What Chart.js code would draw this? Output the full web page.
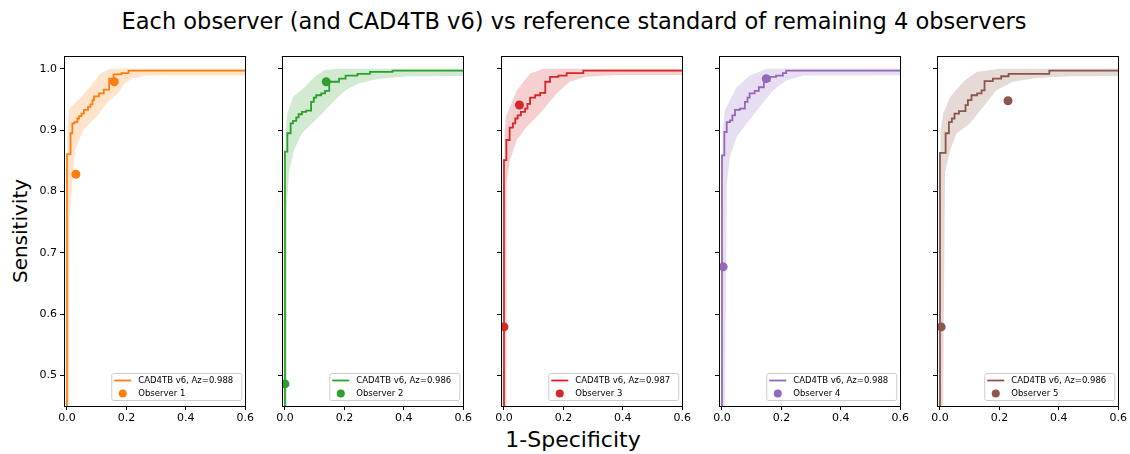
<!DOCTYPE html>
<html>
<head>
<meta charset="utf-8">
<script src="https://cdn.jsdelivr.net/npm/chart.js@4.4.1/dist/chart.umd.min.js"></script>
<style>
  body { margin: 0; background: #fff; }
  #wrap { position: relative; width: 1130px; height: 454px; font-family: 'DejaVu Sans', sans-serif; color: #000; }
  canvas { position: absolute; }
  .title { position: absolute; top: 8px; left: 0; width: 1148px; text-align: center; font-size: 22.5px; line-height: 27px; }
  .xlab { position: absolute; top: 426px; left: 0; width: 1146px; text-align: center; font-size: 22px; line-height: 28px; }
  .ylab { position: absolute; left: 20px; top: 231px; font-size: 20px; transform: translate(-50%, -50%) rotate(-90deg); white-space: nowrap; }
</style>
</head>
<body>
<div id="wrap">
  <div class="title">Each observer (and CAD4TB v6) vs reference standard of remaining 4 observers</div>
  <div class="ylab">Sensitivity</div>
  <div class="xlab">1-Specificity</div>
</div>
<script>
// ROC step curves, [1-specificity, sensitivity]
const roc1 = [[0,0],[0,0.861],[0.012,0.895],[0.018,0.911],[0.025,0.913],[0.035,0.919],[0.041,0.923],[0.049,0.927],[0.057,0.933],[0.071,0.938],[0.079,0.942],[0.086,0.949],[0.091,0.955],[0.108,0.960],[0.124,0.966],[0.142,0.984],[0.157,0.991],[0.183,0.993],[0.207,0.997],[1,0.997]];
const roc2 = [[0,0],[0,0.865],[0.008,0.895],[0.019,0.911],[0.027,0.915],[0.038,0.921],[0.046,0.926],[0.057,0.930],[0.071,0.932],[0.088,0.946],[0.097,0.953],[0.105,0.957],[0.122,0.960],[0.135,0.964],[0.149,0.979],[0.182,0.984],[0.204,0.989],[0.244,0.992],[0.286,0.995],[0.362,0.997],[1,0.997]];
const roc3 = [[0,0],[0,0.851],[0.008,0.884],[0.019,0.904],[0.030,0.911],[0.038,0.919],[0.046,0.924],[0.057,0.930],[0.071,0.935],[0.079,0.943],[0.088,0.953],[0.105,0.957],[0.122,0.961],[0.139,0.979],[0.155,0.987],[0.183,0.989],[0.211,0.993],[0.267,0.997],[1,0.997]];
const roc4 = [[0,0],[0,0.859],[0.008,0.897],[0.016,0.913],[0.027,0.916],[0.035,0.924],[0.044,0.933],[0.060,0.935],[0.077,0.946],[0.086,0.953],[0.093,0.960],[0.110,0.964],[0.124,0.970],[0.141,0.980],[0.160,0.987],[0.182,0.989],[0.205,0.993],[0.216,0.997],[1,0.997]];
const roc5 = [[0,0],[0,0.863],[0.019,0.895],[0.030,0.913],[0.040,0.919],[0.049,0.927],[0.064,0.931],[0.086,0.941],[0.094,0.949],[0.106,0.957],[0.125,0.960],[0.140,0.965],[0.150,0.980],[0.178,0.984],[0.206,0.988],[0.231,0.992],[0.368,0.997],[1,0.997]];

// confidence band edges
const band1Upper = [[0,0.3],[0.002,0.9],[0.007,0.935],[0.044,0.952],[0.077,0.970],[0.111,0.992],[0.144,1.0],[1,1.0]];
const band1Lower = [[0.008,0.3],[0.009,0.758],[0.027,0.867],[0.054,0.900],[0.100,0.922],[0.133,0.944],[0.171,0.960],[0.194,0.976],[0.222,0.985],[0.268,0.989],[1,0.989]];
const band2Upper = [[0,0.3],[0.002,0.9],[0.008,0.927],[0.027,0.954],[0.066,0.970],[0.100,0.987],[0.133,0.998],[0.178,1.0],[1,1.0]];
const band2Lower = [[0.006,0.3],[0.006,0.770],[0.013,0.830],[0.030,0.867],[0.057,0.895],[0.114,0.922],[0.158,0.944],[0.203,0.965],[0.248,0.976],[0.315,0.984],[0.416,0.988],[1,0.989]];
const band3Upper = [[0,0.3],[0.002,0.9],[0.007,0.922],[0.043,0.965],[0.087,0.992],[0.132,1.0],[1,1.0]];
const band3Lower = [[0.008,0.3],[0.009,0.813],[0.020,0.851],[0.043,0.884],[0.076,0.905],[0.121,0.927],[0.177,0.960],[0.221,0.979],[0.277,0.987],[0.378,0.990],[1,0.990]];
const band4Upper = [[0,0.3],[0.002,0.9],[0.010,0.933],[0.049,0.970],[0.094,0.989],[0.150,1.0],[1,1.0]];
const band4Lower = [[0.008,0.3],[0.016,0.813],[0.027,0.857],[0.049,0.889],[0.083,0.911],[0.127,0.938],[0.172,0.965],[0.217,0.981],[0.273,0.989],[1,0.990]];
const band5Upper = [[0,0.3],[0.002,0.9],[0.011,0.927],[0.034,0.954],[0.078,0.979],[0.123,0.995],[0.201,1.0],[1,1.0]];
const band5Lower = [[0.008,0.3],[0.017,0.830],[0.034,0.867],[0.056,0.895],[0.101,0.911],[0.145,0.938],[0.190,0.965],[0.246,0.979],[0.324,0.985],[0.436,0.988],[1,0.989]];

// observer operating points
const obs1 = [[0.030,0.828],[0.159,0.979]];
const obs2 = [[0.000,0.486],[0.139,0.979]];
const obs3 = [[0.000,0.579],[0.052,0.941]];
const obs4 = [[0.004,0.677],[0.149,0.984]];
const obs5 = [[0.004,0.579],[0.229,0.948]];

const azValues = ['0.988', '0.986', '0.987', '0.988', '0.986'];
const observerNames = ['Observer 1', 'Observer 2', 'Observer 3', 'Observer 4', 'Observer 5'];
const colors = ['#ff7f0e', '#2ca02c', '#d62728', '#9467bd', '#8c564b'];
const xTicks = [0, 0.2, 0.4, 0.6];
const yTicks = [0.5, 0.6, 0.7, 0.8, 0.9, 1.0];

const rocs = [roc1, roc2, roc3, roc4, roc5];
const uppers = [band1Upper, band2Upper, band3Upper, band4Upper, band5Upper];
const lowers = [band1Lower, band2Lower, band3Lower, band4Lower, band5Lower];
const observers = [obs1, obs2, obs3, obs4, obs5];

const axLeft = [64, 282, 501, 719, 937];
const FONT = "'DejaVu Sans', sans-serif";

const pts = arr => arr.map(p => ({ x: p[0], y: p[1] }));

function alpha(hex, a) {
    const n = parseInt(hex.slice(1), 16);
    return `rgba(${n >> 16},${(n >> 8) & 255},${n & 255},${a})`;
}

const framePlugin = {
    id: 'frame',
    afterDatasetsDraw(chart) {
        const { ctx, chartArea: a } = chart;
        ctx.save();
        ctx.strokeStyle = '#000';
        ctx.lineWidth = 1;
        ctx.strokeRect(Math.round(a.left) + 0.5, Math.round(a.top) + 0.5, Math.round(a.right - a.left), Math.round(a.bottom - a.top));
        ctx.restore();
    }
};

const legendPlugin = {
    id: 'boxLegend',
    afterDraw(chart, args, opts) {
        const { ctx, chartArea: a } = chart;
        const w = 130, h = 27;
        const x = a.right - 4 - w, y = a.bottom - 6 - h;
        ctx.save();
        ctx.fillStyle = 'rgba(255,255,255,0.8)';
        ctx.strokeStyle = '#cccccc';
        ctx.lineWidth = 1;
        ctx.beginPath();
        ctx.roundRect(x + 0.5, y + 0.5, w, h, 2);
        ctx.fill();
        ctx.stroke();
        ctx.strokeStyle = opts.color;
        ctx.lineWidth = 1.8;
        ctx.beginPath();
        ctx.moveTo(x + 3, y + 7.5);
        ctx.lineTo(x + 20, y + 7.5);
        ctx.stroke();
        ctx.fillStyle = opts.color;
        ctx.beginPath();
        ctx.arc(x + 11.5, y + 20.5, 4, 0, Math.PI * 2);
        ctx.fill();
        ctx.fillStyle = '#000';
        ctx.font = `8.5px ${FONT}`;
        ctx.textBaseline = 'middle';
        ctx.fillText(opts.lines[0], x + 27, y + 8);
        ctx.fillText(opts.lines[1], x + 27, y + 21);
        ctx.restore();
    }
};

const wrap = document.getElementById('wrap');

rocs.forEach((roc, i) => {
    const cv = document.createElement('canvas');
    cv.width = 237; cv.height = 390;
    cv.style.left = (axLeft[i] - 45) + 'px';
    cv.style.top = '46px';
    cv.style.width = '237px'; cv.style.height = '390px';
    wrap.appendChild(cv);

    const bandShape = pts(uppers[i].concat(lowers[i].slice().reverse()));

    new Chart(cv, {
        type: 'line',
        data: {
            datasets: [
                {
                    data: bandShape, fill: 'shape', backgroundColor: alpha(colors[i], 0.22),
                    borderWidth: 0, pointRadius: 0, order: 3
                },
                {
                    data: pts(roc), stepped: 'before', borderColor: colors[i], borderWidth: 1.8,
                    pointRadius: 0, fill: false, order: 2
                },
                {
                    data: pts(observers[i]), showLine: false, pointRadius: 4.5, pointBorderWidth: 0,
                    pointBackgroundColor: colors[i], order: 1
                }
            ]
        },
        options: {
            responsive: false,
            animation: false,
            devicePixelRatio: 1,
            layout: { padding: { top: 10, right: 10, left: 0, bottom: 0 } },
            plugins: {
                legend: { display: false },
                tooltip: { enabled: false },
                boxLegend: { color: colors[i], lines: ['CAD4TB v6, Az=' + azValues[i], observerNames[i]] }
            },
            scales: {
                x: {
                    type: 'linear', min: -0.01, max: 0.6,
                    afterBuildTicks: s => { s.ticks = xTicks.map(v => ({ value: v })); },
                    afterFit: s => { s.height = 30; },
                    grid: { drawOnChartArea: false, drawTicks: true, tickLength: 4, color: '#000' },
                    border: { display: false },
                    ticks: { color: '#000', padding: 2, maxRotation: 0, font: { family: FONT, size: 11 }, callback: v => v.toFixed(1) }
                },
                y: {
                    type: 'linear', min: 0.45, max: 1.021,
                    afterBuildTicks: s => { s.ticks = yTicks.map(v => ({ value: v })); },
                    afterFit: s => { s.width = 45; },
                    grid: { drawOnChartArea: false, drawTicks: true, tickLength: 4, color: '#000' },
                    border: { display: false },
                    ticks: { color: '#000', padding: 3, font: { family: FONT, size: 11 }, callback: v => i === 0 ? v.toFixed(1) : '' }
                }
            }
        },
        plugins: [framePlugin, legendPlugin]
    });
});
</script>
</body>
</html>
